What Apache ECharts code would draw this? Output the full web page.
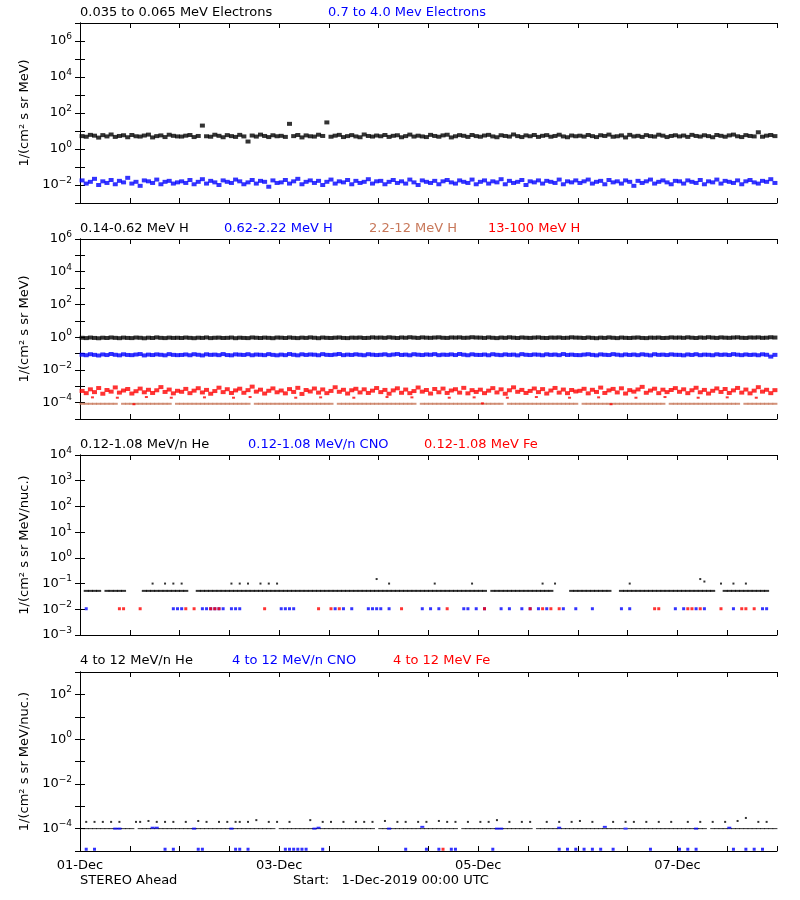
<!DOCTYPE html>
<html><head><meta charset="utf-8">
<script src="https://cdn.jsdelivr.net/npm/echarts@6/dist/echarts.min.js"></script>
<style>html,body{margin:0;background:#fff}#c{width:800px;height:900px}</style>
</head><body><div id="c"></div>
<script>
// ---- tick labels ----
const dayLabels = {0:'01-Dec',48:'03-Dec',96:'05-Dec',144:'07-Dec'};

// ---- Panel 1: electrons, hourly values ----
const elecLow = [
5.2,4.8,6.1,5.5,4.3,5.9,5.0,6.4,4.7,5.3,5.8,4.5,6.0,5.1,4.9,5.6,6.3,4.4,5.2,5.7,4.6,6.2,5.4,5.0,
4.9,5.5,6.0,4.6,5.3,20,5.1,4.8,6.2,5.4,4.5,5.9,5.2,4.7,6.1,5.0,2.6,5.6,4.9,6.3,5.3,4.6,5.8,5.1,
5.4,4.7,25,5.2,6.0,4.4,5.7,5.1,4.9,6.2,5.3,30,4.8,5.5,6.1,4.6,5.2,5.9,5.0,4.5,6.4,5.3,4.9,5.6,
5.1,6.0,4.7,5.4,5.8,4.5,5.2,6.3,4.9,5.5,5.0,4.6,6.1,5.3,4.8,5.7,6.2,4.4,5.1,5.9,5.4,4.7,6.0,5.2,
4.8,5.6,6.1,5.0,4.5,5.8,5.3,4.9,6.4,5.2,4.6,5.7,5.1,6.0,4.7,5.4,5.9,4.8,5.3,6.2,5.0,4.5,5.6,5.1,
5.5,4.9,6.0,5.2,4.6,5.8,5.3,6.3,4.8,5.1,5.7,4.4,6.1,5.0,5.4,4.7,5.9,5.2,4.9,6.2,5.5,4.6,5.3,5.8,
5.0,5.6,4.7,6.1,5.3,4.9,5.8,5.2,4.5,6.0,5.4,4.8,5.7,6.3,5.1,4.6,5.9,5.3,5.0,8.5,4.8,5.5,6.0,5.2];
const elecHigh = [
.018,.012,.015,.022,.010,.016,.013,.019,.011,.017,.014,.025,.012,.015,.009,.018,.016,.013,.020,.011,.015,.017,.012,.014,
.016,.013,.019,.011,.015,.021,.012,.017,.014,.010,.018,.015,.013,.020,.016,.011,.014,.019,.012,.017,.015,.008,.018,.013,
.014,.019,.012,.016,.022,.011,.015,.018,.013,.017,.010,.015,.020,.012,.016,.014,.019,.011,.017,.013,.015,.021,.012,.016,
.017,.011,.015,.019,.013,.016,.012,.020,.014,.010,.018,.015,.013,.017,.011,.016,.019,.014,.012,.018,.015,.013,.020,.011,
.015,.018,.012,.016,.014,.021,.011,.017,.013,.015,.019,.010,.016,.014,.018,.012,.017,.015,.013,.020,.011,.016,.014,.018,
.013,.016,.020,.012,.015,.017,.011,.019,.014,.016,.012,.018,.015,.009,.017,.013,.016,.020,.012,.015,.018,.014,.011,.017,
.016,.012,.018,.015,.013,.019,.011,.016,.014,.020,.012,.017,.015,.013,.018,.011,.016,.019,.014,.012,.017,.015,.021,.013];

// ---- Panel 2: protons, hourly values ----
const hLow = [
.92,.88,.95,.90,.86,.93,.89,.96,.91,.87,.94,.90,.88,.95,.92,.86,.93,.89,.97,.91,.88,.94,.90,.92,
.89,.95,.91,.87,.93,.90,.96,.88,.92,.94,.89,.91,.95,.87,.93,.90,.88,.96,.92,.89,.94,.91,.87,.95,
.93,.89,.96,.91,.88,.94,.90,.97,.92,.87,.95,.91,.89,.93,.96,.90,.88,.94,.92,.95,.89,.91,.97,.93,
.95,.91,.98,.93,.89,.96,.92,.99,.94,.90,.97,.93,.91,.95,.98,.92,.90,.96,.94,.97,.91,.93,.99,.95,
.94,.90,.97,.92,.88,.95,.91,.98,.93,.89,.96,.92,.90,.94,.97,.91,.89,.95,.93,.96,.90,.92,.98,.94,
.93,.89,.96,.91,.87,.94,.90,.97,.92,.88,.95,.91,.89,.93,.96,.90,.88,.94,.92,.95,.89,.91,.97,.93,
.95,.91,.98,.93,.89,.96,.92,.99,.94,.90,.97,.93,.91,.95,.98,.92,.90,.96,.94,.97,.91,.93,.99,.95];
const hMid = [
.085,.079,.091,.083,.076,.088,.081,.094,.084,.078,.090,.082,.080,.087,.093,.077,.086,.081,.089,.084,.078,.092,.083,.080,
.082,.088,.079,.091,.084,.077,.090,.083,.086,.080,.093,.081,.078,.089,.085,.082,.091,.079,.087,.084,.080,.092,.083,.078,
.086,.080,.093,.084,.078,.090,.082,.088,.085,.079,.092,.083,.081,.087,.094,.080,.086,.082,.090,.084,.079,.091,.085,.081,
.084,.090,.080,.087,.093,.082,.086,.079,.091,.085,.081,.088,.084,.092,.080,.086,.083,.089,.081,.094,.085,.079,.090,.083,
.082,.087,.079,.091,.084,.080,.089,.083,.086,.078,.092,.084,.081,.088,.085,.079,.090,.083,.087,.080,.093,.082,.086,.081,
.080,.086,.091,.083,.078,.089,.084,.081,.092,.085,.079,.088,.082,.087,.080,.090,.084,.078,.091,.083,.086,.081,.089,.084,
.083,.078,.088,.082,.091,.080,.086,.084,.079,.090,.083,.087,.081,.092,.085,.080,.088,.082,.086,.079,.090,.084,.065,.083];
const hHigh = [
5.2e-4,3.8e-4,6.5e-4,4.4e-4,7.8e-4,3.5e-4,5.9e-4,4.7e-4,8.5e-4,4.1e-4,5.5e-4,6.8e-4,3.6e-4,5.0e-4,7.2e-4,4.3e-4,6.1e-4,3.9e-4,5.7e-4,8.9e-4,4.5e-4,6.3e-4,3.7e-4,5.3e-4,
4.6e-4,6.9e-4,3.8e-4,5.4e-4,7.6e-4,4.2e-4,6.0e-4,3.5e-4,5.1e-4,8.2e-4,4.4e-4,6.6e-4,3.9e-4,5.6e-4,7.1e-4,4.0e-4,5.8e-4,9.5e-4,4.7e-4,6.2e-4,3.6e-4,5.3e-4,7.4e-4,4.3e-4,
5.5e-4,3.7e-4,6.7e-4,4.5e-4,8.0e-4,3.4e-4,5.9e-4,4.8e-4,7.3e-4,4.1e-4,6.4e-4,3.8e-4,5.2e-4,8.7e-4,4.6e-4,6.1e-4,3.6e-4,5.7e-4,7.0e-4,4.2e-4,6.5e-4,3.9e-4,5.4e-4,7.8e-4,
4.4e-4,6.0e-4,3.5e-4,5.6e-4,7.5e-4,4.0e-4,6.3e-4,3.8e-4,5.1e-4,8.4e-4,4.7e-4,5.9e-4,3.6e-4,6.8e-4,4.3e-4,7.2e-4,3.9e-4,5.5e-4,6.6e-4,4.1e-4,8.0e-4,3.7e-4,5.8e-4,4.5e-4,
6.2e-4,3.8e-4,5.4e-4,7.7e-4,4.2e-4,6.5e-4,3.5e-4,5.7e-4,8.6e-4,4.6e-4,6.0e-4,3.9e-4,5.2e-4,7.3e-4,4.4e-4,6.7e-4,3.6e-4,5.5e-4,7.9e-4,4.1e-4,6.3e-4,3.8e-4,5.9e-4,4.8e-4,
5.3e-4,7.0e-4,3.7e-4,6.1e-4,4.5e-4,8.3e-4,3.9e-4,5.6e-4,6.9e-4,4.2e-4,7.5e-4,3.6e-4,5.8e-4,4.7e-4,6.4e-4,9.2e-4,4.0e-4,5.5e-4,7.1e-4,3.8e-4,6.2e-4,4.4e-4,5.9e-4,7.7e-4,
4.6e-4,6.5e-4,3.8e-4,5.7e-4,8.1e-4,4.3e-4,6.0e-4,3.6e-4,5.3e-4,7.4e-4,4.5e-4,6.8e-4,3.9e-4,5.6e-4,7.9e-4,4.1e-4,6.3e-4,3.7e-4,5.4e-4,8.8e-4,4.7e-4,6.1e-4,3.8e-4,5.8e-4];
const hHighLowRow = [[3,2.1e-4],[9,2.0e-4],[16,2.2e-4],[22,2.0e-4],[30,2.1e-4],[37,2.0e-4],[41,2.2e-4],[52,2.0e-4],[58,2.1e-4],[66,2.0e-4],[74,2.2e-4],[80,2.1e-4],[89,2.0e-4],[95,2.1e-4],[103,2.0e-4],[110,2.2e-4],[118,2.0e-4],[125,2.1e-4],[134,2.0e-4],[141,2.2e-4],[149,2.0e-4],[156,2.1e-4],[163,2.0e-4],[13,8e-5],[97,9e-5],[128,8e-5]];
const hMidHighSegs = [[0,8],[10,21],[23,40],[42,60],[62,80],[82,101],[103,119],[121,140],[142,158],[160,167]];
const hMidHighVal = 8.5e-5;

// ---- Panel 3: 0.12-1.08 MeV/n ions ----
const he3Segs = [[1,4],[6,10],[15,25],[28,60],[61,77],[78,97],[99,113],[118,127],[130,152],[155,165]];
const he3Val = 0.052;
const he3Peaks = [[17,0.1],[20,0.1],[22,0.1],[24,0.1],[36,0.1],[38,0.1],[40,0.1],[43,0.1],[45,0.1],[47,0.1],[71,0.15],[74,0.1],[94,0.1],[111,0.1],[114,0.1],[132,0.1],[149,0.15],[150,0.12],[154,0.1],[157,0.1],[160,0.1],[85,0.1]];
const cno3Hours = [1,22,23,24,29,30,31,32,33,34,36,37,38,48,49,50,51,61,63,65,69,70,71,72,74,82,84,86,92,93,95,97,101,103,106,108,110,112,116,119,123,130,132,143,145,148,150,157,164,165];
const cno3Val = 0.0105;
const fe3Hours = [9,10,14,25,27,31,32,33,44,57,60,62,77,88,97,108,111,113,115,138,139,146,147,149,154,159,160,162];
const fe3Val = 0.0105;

// ---- Panel 4: 4-12 MeV/n ions ----
const he4Segs = [[0,12],[14,30],[31,46],[48,70],[72,90],[92,108],[110,130],[132,150],[152,167]];
const he4Val = 1.0e-4;
const he4Upper = [[1,2e-4],[3,2e-4],[5,2e-4],[7,2e-4],[9,2e-4],[13,2e-4],[14,2e-4],[16,2.2e-4],[18,2e-4],[20,2e-4],[22,2e-4],[25,2e-4],[28,2.2e-4],[30,2e-4],[33,2e-4],[35,2e-4],[37,2e-4],[38,2e-4],[40,2e-4],[42,2.4e-4],[45,2e-4],[47,2e-4],[50,2e-4],[55,2.4e-4],[58,2e-4],[60,2e-4],[63,2e-4],[66,2e-4],[68,2e-4],[70,2e-4],[73,2.2e-4],[76,2e-4],[78,2e-4],[81,2e-4],[83,2e-4],[86,2.2e-4],[88,2e-4],[90,2e-4],[93,2e-4],[96,2e-4],[98,2e-4],[100,2.4e-4],[103,2e-4],[106,2e-4],[108,2e-4],[112,2e-4],[115,2e-4],[118,2e-4],[120,2.2e-4],[123,2e-4],[128,2e-4],[131,2e-4],[133,2e-4],[136,2e-4],[139,2e-4],[142,2e-4],[146,2e-4],[149,2e-4],[152,2e-4],[155,2e-4],[158,2.2e-4],[160,3e-4],[163,2e-4],[165,2e-4]];
const cno4Line = [[8,1e-4],[9,1e-4],[17,1.1e-4],[18,1.1e-4],[27,1e-4],[36,1e-4],[56,1e-4],[57,1.1e-4],[74,1e-4],[82,1.2e-4],[100,1e-4],[101,1e-4],[115,1.1e-4],[126,1.2e-4],[131,1e-4],[148,1e-4],[156,1.1e-4]];
const cno4Low = [1,3,20,22,28,29,37,38,40,49,50,51,52,53,54,58,78,83,86,89,90,99,115,117,119,121,123,125,128,137,144,146,148,157,160,162,164];
const cno4LowVal = 1.2e-5;
const fe4Low = [[87,1.2e-5]];

// ---- helpers ----
const BLUE='#0000ff', RED='#ff0000', BROWN='#c8785a', BLACK='#000000';
const hourly = arr => arr.map((v,i)=>[i+0.5,v]);
const segs = (s,v) => { const o=[]; s.forEach(([a,b])=>{for(let h=a;h<=b;h++) o.push([h+0.5,v]);}); return o; };
const hrs = (list,v) => list.map(h=>[h+0.5,v]);
const FONT = 'DejaVu Sans';

const tops=[23,239,455,672], H=[180,180,180,179];
const yr=[[1e-3,1e7,2],[1e-5,1e6,2],[1e-3,1e4,1],[1e-5,1e3,2]];
const names=['1/(cm² s sr MeV)','1/(cm² s sr MeV)','1/(cm² s sr MeV/nuc.)','1/(cm² s sr MeV/nuc.)'];
const grid=[],xAxis=[],yAxis=[];
for(let i=0;i<4;i++){
  grid.push({left:80,right:23,top:tops[i],height:H[i]});
  const tk={show:true,inside:true,length:5,lineStyle:{color:'#000'}};
  const line={show:true,lineStyle:{color:'#000',width:1}};
  xAxis.push({gridIndex:i,type:'value',min:0,max:168,interval:12,axisLine:line,axisTick:tk,splitLine:{show:false},
    axisLabel:{show:i===3,margin:8,color:'#000',fontFamily:FONT,fontSize:13,formatter:v=>dayLabels[v]||''}});
  xAxis.push({gridIndex:i,type:'value',position:'top',min:0,max:168,interval:12,axisLine:line,axisTick:tk,splitLine:{show:false},axisLabel:{show:false}});
  const step=yr[i][2];
  yAxis.push({gridIndex:i,type:'log',logBase:10,interval:1,min:yr[i][0],max:yr[i][1],axisLine:line,axisTick:tk,splitLine:{show:false},
    name:names[i],nameLocation:'middle',nameGap:44,nameTextStyle:{fontFamily:FONT,fontSize:13,color:'#000'},
    axisLabel:{margin:8,color:'#000',fontFamily:FONT,fontSize:13,showMinLabel:true,showMaxLabel:true,formatter:v=>{const e=Math.round(Math.log10(v)); if(e%step!==0) return ''; return '{b|10}{s|'+(e<0?'−'+(-e):e)+'}';},
      rich:{b:{fontSize:13,fontFamily:FONT,color:'#000'},s:{fontSize:9,fontFamily:FONT,color:'#000',padding:[0,0,9,0]}}}});
  yAxis.push({gridIndex:i,type:'log',logBase:10,interval:1,position:'right',min:yr[i][0],max:yr[i][1],axisLine:line,axisTick:tk,splitLine:{show:false},axisLabel:{show:false}});
}
const ser=(i,data,color,size)=>({type:'scatter',xAxisIndex:2*i,yAxisIndex:2*i,data,symbol:'rect',symbolSize:size||[5,4],itemStyle:{color},silent:true,animation:false});
const series=[
  ser(0,hourly(elecLow),BLACK),
  ser(0,hourly(elecHigh),BLUE),
  ser(1,hourly(hLow),BLACK,[5,4]),
  ser(1,hourly(hMid),BLUE,[5,4]),
  ser(1,segs(hMidHighSegs,hMidHighVal),BROWN,[5,2]),
  ser(1,hourly(hHigh),RED,[5,4]),
  ser(1,hHighLowRow,RED,[3,2]),
  ser(2,segs(he3Segs,he3Val),BLACK,[5,2]),
  ser(2,he3Peaks.map(([h,v])=>[h+0.5,v]),BLACK,[2,2]),
  ser(2,hrs(cno3Hours,cno3Val),BLUE,[3,3]),
  ser(2,hrs(fe3Hours,fe3Val),RED,[3,3]),
  ser(3,segs(he4Segs,he4Val),BLACK,[5,1]),
  ser(3,he4Upper.map(([h,v])=>[h+0.5,v]),BLACK,[2,2]),
  ser(3,cno4Line.map(([h,v])=>[h+0.5,v]),BLUE,[4,2]),
  ser(3,hrs(cno4Low,cno4LowVal),BLUE,[3,3]),
  ser(3,fe4Low.map(([h,v])=>[h+0.5,v]),RED,[3,3])
];
const T=(x,y,text,color)=>({type:'text',left:x,top:y,style:{text,fill:color,font:'13px "'+FONT+'"'}});
const graphic=[
  T(80,6,'0.035 to 0.065 MeV Electrons',BLACK),T(328,6,'0.7 to 4.0 Mev Electrons',BLUE),
  T(80,222,'0.14-0.62 MeV H',BLACK),T(224,222,'0.62-2.22 MeV H',BLUE),T(369,222,'2.2-12 MeV H',BROWN),T(488,222,'13-100 MeV H',RED),
  T(80,438,'0.12-1.08 MeV/n He',BLACK),T(248,438,'0.12-1.08 MeV/n CNO',BLUE),T(424,438,'0.12-1.08 MeV Fe',RED),
  T(80,654,'4 to 12 MeV/n He',BLACK),T(232,654,'4 to 12 MeV/n CNO',BLUE),T(393,654,'4 to 12 MeV Fe',RED),
  T(80,874,'STEREO Ahead',BLACK),T(293,874,'Start:   1-Dec-2019 00:00 UTC',BLACK)
];
const chart=echarts.init(document.getElementById('c'));
chart.setOption({animation:false,backgroundColor:'#fff',grid,xAxis,yAxis,series,graphic});
</script></body></html>
